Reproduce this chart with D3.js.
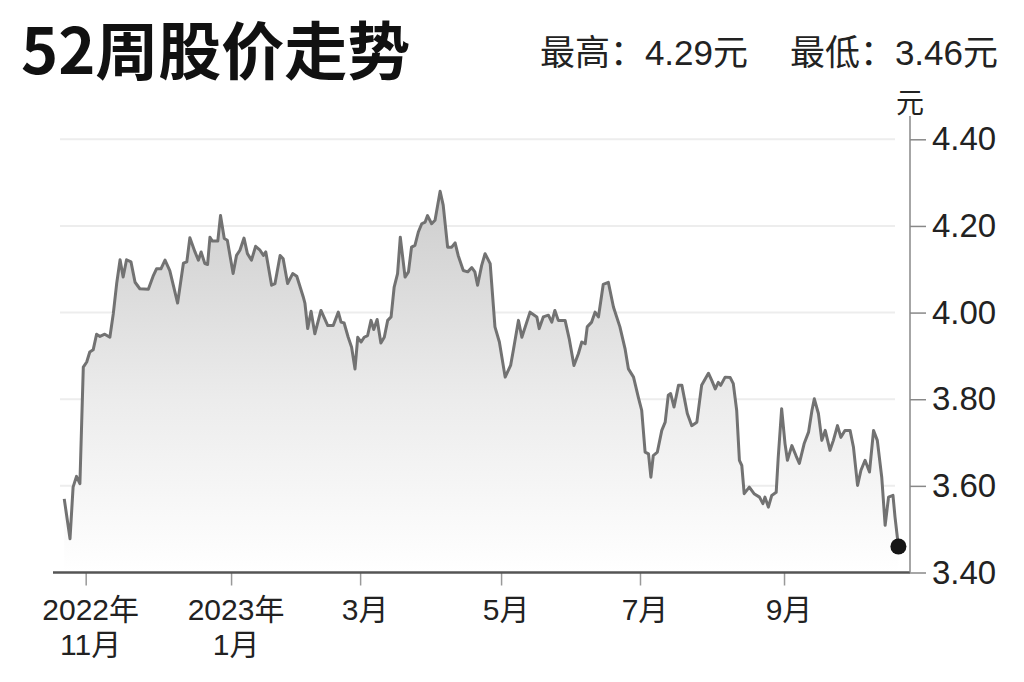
<!DOCTYPE html>
<html>
<head>
<meta charset="utf-8">
<script src="https://cdn.jsdelivr.net/npm/d3@7"></script>
<style>
  body { margin: 0; background: #fff; }
  svg { display: block; }
</style>
</head>
<body>
<svg></svg>
<script>
// trading-day index of each traced point
var days = [
  0.1, 1.8, 2.7, 3.7, 4.7, 5.7, 6.7, 7.6, 8.6, 9.6,
  10.6, 12.0, 13.5, 14.5, 15.5, 16.5, 17.4, 18.4, 19.7, 20.9,
  22.3, 24.8, 26.2, 27.2, 28.5, 29.7, 31.1, 33.4, 35.1, 36.1,
  37.0, 38.5, 39.5, 40.3, 41.4, 42.2, 42.9, 43.6, 45.2, 46.0,
  47.1, 48.0, 49.7, 50.7, 51.7, 52.9, 53.9, 55.1, 56.3, 57.6,
  58.6, 59.3, 61.0, 62.0, 63.5, 64.4, 65.7, 67.2, 68.4, 70.3,
  70.8, 71.6, 72.6, 73.7, 75.5, 77.5, 79.1, 80.6, 81.4, 82.3,
  83.5, 84.5, 85.5, 86.3, 87.3, 88.2, 89.2, 90.2, 91.0, 92.0,
  93.1, 94.1, 95.1, 96.1, 97.0, 98.0, 98.8, 100.2, 101.2, 102.1,
  103.1, 104.1, 105.1, 106.1, 106.8, 108.0, 109.0, 110.5, 111.4, 112.7,
  113.9, 114.9, 115.8, 117.3, 118.6, 119.8, 120.7, 121.5, 122.7, 123.7,
  125.2, 126.6, 127.9, 129.6, 131.2, 132.0, 133.5, 134.5, 136.9, 138.9,
  139.6, 140.8, 142.3, 143.3, 144.2, 145.2, 147.2, 148.4, 149.8, 151.1,
  152.1, 153.1, 153.7, 155.0, 156.0, 157.0, 158.4, 159.9, 161.4, 163.3,
  164.8, 165.8, 167.3, 168.7, 169.7, 170.7, 171.7, 172.4, 173.1, 174.3,
  175.6, 176.6, 177.5, 178.2, 179.2, 180.5, 181.5, 183.1, 184.4, 185.9,
  187.3, 189.3, 190.3, 191.3, 192.2, 192.9, 194.2, 195.7, 196.6, 197.6,
  198.4, 199.1, 199.8, 201.3, 202.7, 204.3, 205.3, 205.9, 206.9, 207.9,
  209.2, 209.8, 210.8, 211.8, 212.5, 213.8, 215.0, 216.0, 217.4, 218.7,
  219.7, 220.4, 221.6, 222.6, 223.6, 225.0, 226.0, 227.2, 228.2, 229.4,
  230.9, 231.9, 233.1, 234.1, 235.3, 236.6, 237.8, 238.9, 240.2, 241.2,
  242.2, 243.5, 244.1, 245.1
];
// closing price, 元
var prices = [
  3.570, 3.478, 3.597, 3.622, 3.605, 3.874, 3.886, 3.909, 3.914, 3.950,
  3.945, 3.950, 3.943, 3.997, 4.067, 4.122, 4.082, 4.122, 4.117, 4.070,
  4.055, 4.054, 4.084, 4.101, 4.101, 4.121, 4.097, 4.022, 4.114, 4.117,
  4.173, 4.140, 4.121, 4.140, 4.113, 4.111, 4.174, 4.165, 4.165, 4.224,
  4.171, 4.167, 4.090, 4.132, 4.144, 4.172, 4.136, 4.121, 4.153, 4.144,
  4.132, 4.140, 4.063, 4.067, 4.132, 4.124, 4.067, 4.090, 4.084, 4.036,
  4.021, 3.963, 4.003, 3.951, 4.005, 3.970, 3.970, 4.001, 3.978, 3.976,
  3.943, 3.920, 3.870, 3.943, 3.932, 3.943, 3.947, 3.982, 3.961, 3.984,
  3.930, 3.943, 3.982, 3.990, 4.059, 4.090, 4.174, 4.082, 4.094, 4.151,
  4.155, 4.186, 4.205, 4.209, 4.224, 4.205, 4.213, 4.280, 4.248, 4.151,
  4.151, 4.161, 4.132, 4.097, 4.094, 4.104, 4.094, 4.063, 4.109, 4.136,
  4.113, 3.967, 3.932, 3.851, 3.878, 3.913, 3.982, 3.943, 4.001, 3.990,
  3.963, 3.990, 3.994, 3.978, 4.005, 3.982, 3.982, 3.940, 3.878, 3.905,
  3.932, 3.928, 3.967, 3.978, 4.001, 3.990, 4.065, 4.070, 4.013, 3.967,
  3.917, 3.870, 3.851, 3.805, 3.774, 3.678, 3.674, 3.620, 3.670, 3.678,
  3.728, 3.747, 3.809, 3.813, 3.782, 3.832, 3.832, 3.767, 3.739, 3.747,
  3.832, 3.860, 3.843, 3.824, 3.839, 3.832, 3.851, 3.850, 3.836, 3.774,
  3.659, 3.647, 3.582, 3.597, 3.582, 3.574, 3.559, 3.574, 3.551, 3.578,
  3.585, 3.666, 3.778, 3.697, 3.659, 3.693, 3.670, 3.652, 3.697, 3.724,
  3.774, 3.801, 3.767, 3.705, 3.728, 3.682, 3.705, 3.739, 3.712, 3.728,
  3.728, 3.689, 3.601, 3.636, 3.659, 3.632, 3.728, 3.705, 3.620, 3.509,
  3.574, 3.578, 3.528, 3.460
];
var yTicks = [3.40, 3.60, 3.80, 4.00, 4.20, 4.40];
var monthDays = [6.4, 49.1, 87.0, 128.4, 169.2, 211.5];
var monthLabels = [["2022年", "11月"], ["2023年", "1月"], ["3月"], ["5月"], ["7月"], ["9月"]];
var title = "52周股价走势";
var highText = "最高：4.29元";
var lowText = "最低：3.46元";
var unit = "元";

var width = 1024, height = 682;
var svg = d3.select("svg").attr("width", width).attr("height", height);
var latin = "'Liberation Sans', Arial, 'Noto Sans CJK SC', sans-serif";
var narrow = "'Liberation Sans Narrow', 'Liberation Sans', 'Noto Sans CJK SC', sans-serif";

var x = d3.scaleLinear().domain([-3.2, 248.5]).range([53, 910]);
var y = d3.scaleLinear().domain([3.40, 4.40]).range([572.5, 139.3]);

var points = days.map(function(d, i){ return {day: d, price: prices[i]}; });

// background grid
svg.append("g").selectAll("line").data(yTicks.slice(1)).enter().append("line")
	.attr("x1", 60).attr("x2", 895)
	.attr("y1", function(d){ return y(d); })
	.attr("y2", function(d){ return y(d); })
	.style("stroke", "#ededed")
	.style("stroke-width", 2);

// gradient under the line
var grad = svg.append("defs").append("linearGradient")
	.attr("id", "fade")
	.attr("gradientUnits", "userSpaceOnUse")
	.attr("x1", 0).attr("x2", 0)
	.attr("y1", y(4.28)).attr("y2", y(3.40));
grad.append("stop").attr("offset", "0%").attr("stop-color", "#cdcdcd");
grad.append("stop").attr("offset", "55%").attr("stop-color", "#ececec");
grad.append("stop").attr("offset", "100%").attr("stop-color", "#ffffff");

var area = d3.area()
	.x(function(p){ return x(p.day); })
	.y0(y(3.40))
	.y1(function(p){ return y(p.price); });
svg.append("path").datum(points)
	.attr("d", area)
	.style("fill", "url(#fade)");

var line = d3.line()
	.x(function(p){ return x(p.day); })
	.y(function(p){ return y(p.price); });
svg.append("path").datum(points)
	.attr("d", line)
	.style("fill", "none")
	.style("stroke", "#727272")
	.style("stroke-width", 3)
	.style("stroke-linejoin", "round");

var last = points[points.length - 1];
svg.append("circle")
	.attr("cx", x(last.day)).attr("cy", y(last.price)).attr("r", 8)
	.style("fill", "#151515");

// x axis
var xAxis = svg.append("g").attr("transform", "translate(0," + y(3.40) + ")")
	.call(d3.axisBottom(x).tickValues(monthDays).tickSize(13).tickFormat(""));
xAxis.select(".domain").remove();
xAxis.selectAll(".tick line").style("stroke", "#999").style("stroke-width", 1.5);
svg.append("line")
	.attr("x1", 53).attr("x2", 910)
	.attr("y1", y(3.40)).attr("y2", y(3.40))
	.style("stroke", "#555").style("stroke-width", 2.5);

// one text per label line
monthDays.forEach(function(d, i){
	svg.append("g").selectAll("text").data(monthLabels[i]).enter().append("text")
		.attr("x", x(d) + 5)
		.attr("y", function(s, j){ return 620 + j * 35; })
		.attr("text-anchor", "middle")
		.attr("font-family", narrow)
		.attr("font-size", 30)
		.attr("fill", "#222")
		.text(function(s){ return s; });
});

// y axis
svg.append("line")
	.attr("x1", 910).attr("x2", 910)
	.attr("y1", 116).attr("y2", y(3.40))
	.style("stroke", "#888").style("stroke-width", 1.5);
var yAxis = svg.append("g").attr("transform", "translate(910,0)")
	.call(d3.axisRight(y).tickValues(yTicks).tickSize(16).tickPadding(6).tickFormat(d3.format(".2f")));
yAxis.select(".domain").remove();
yAxis.selectAll(".tick line").style("stroke", "#888").style("stroke-width", 1.5);
yAxis.selectAll(".tick text")
	.attr("font-family", latin)
	.attr("font-size", 33)
	.attr("fill", "#222");

svg.append("text")
	.attr("x", 910).attr("y", 113)
	.attr("text-anchor", "middle")
	.attr("font-family", "'Noto Sans CJK SC', sans-serif")
	.attr("font-size", 28)
	.attr("fill", "#222")
	.text(unit);

// heading
svg.append("text")
	.attr("x", 21).attr("y", 74)
	.attr("font-family", "'Noto Sans CJK SC', sans-serif")
	.attr("font-weight", 700)
	.attr("font-size", 63)
	.attr("fill", "#111")
	.text(title);
svg.append("text")
	.attr("x", 748).attr("y", 65)
	.attr("text-anchor", "end")
	.attr("font-family", narrow)
	.attr("font-size", 35)
	.attr("fill", "#222")
	.text(highText);
svg.append("text")
	.attr("x", 998).attr("y", 65)
	.attr("text-anchor", "end")
	.attr("font-family", narrow)
	.attr("font-size", 35)
	.attr("fill", "#222")
	.text(lowText);
</script>
</body>
</html>
